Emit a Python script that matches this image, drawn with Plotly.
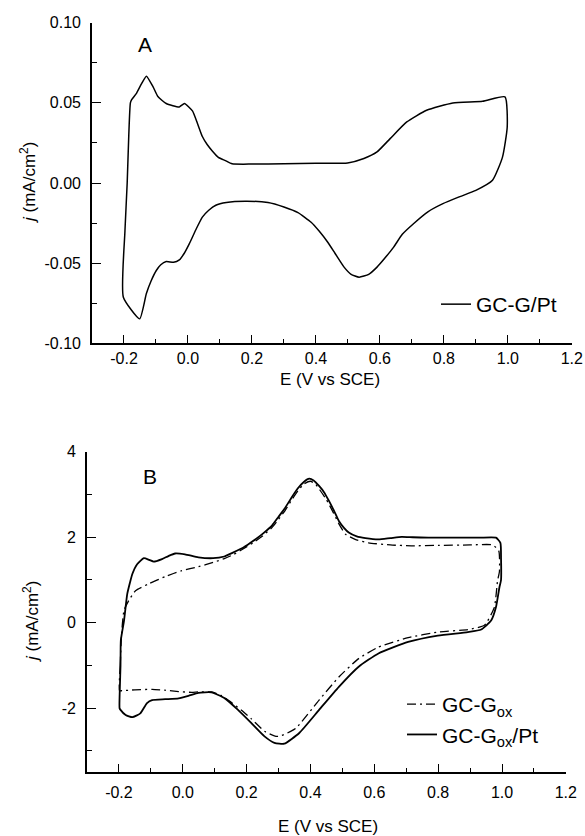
import plotly.graph_objects as go

# ---------------- Panel A : GC-G/Pt ----------------
a_E = [-0.202, -0.197, -0.190, -0.185, -0.180, -0.176, -0.161, -0.145, -0.130, -0.109, -0.094,
       -0.068, -0.027, -0.011, 0.014, 0.030, 0.045, 0.060, 0.076, 0.095, 0.117, 0.138, 0.200,
       0.300, 0.400, 0.499, 0.550, 0.591, 0.632, 0.684, 0.746, 0.828, 0.921, 0.991,
       0.998, 0.983, 0.952, 0.900, 0.850, 0.797, 0.750, 0.705, 0.670, 0.643, 0.615, 0.591, 0.565,
       0.535, 0.510, 0.488, 0.460, 0.437, 0.410, 0.385, 0.344, 0.300, 0.250, 0.179, 0.120, 0.087,
       0.065, 0.045, 0.025, 0.004, -0.012, -0.027, -0.045, -0.068, -0.085, -0.099, -0.115, -0.130,
       -0.151, -0.202]
a_j = [-0.0713, -0.030, 0.000, 0.030, 0.050, 0.052, 0.056, 0.062, 0.0667, 0.060, 0.054,
       0.0496, 0.0475, 0.0496, 0.045, 0.037, 0.029, 0.024, 0.020, 0.016, 0.014, 0.012, 0.0118,
       0.0120, 0.0123, 0.0125, 0.0153, 0.0194, 0.0277, 0.0381, 0.0454, 0.0500, 0.0510, 0.0538,
       0.035, 0.016, 0.0017, -0.0046, -0.0085, -0.0129, -0.018, -0.0254, -0.032, -0.040, -0.047, -0.0525, -0.057,
       -0.0588, -0.057, -0.0525, -0.044, -0.0370, -0.0300, -0.0245, -0.0185, -0.0150, -0.0122, -0.0114, -0.0122, -0.0139,
       -0.017, -0.0213, -0.029, -0.038, -0.044, -0.048, -0.0495, -0.049, -0.051, -0.0546, -0.061, -0.069,
       -0.0848, -0.0713]

# ---------------- Panel B : GC-Gox (dash-dot) ----------------
b1_E = [-0.198, -0.196, -0.192, -0.184, -0.169, -0.148, -0.107, -0.055, -0.003, 0.049, 0.095, 0.130,
        0.160, 0.190, 0.220, 0.250, 0.280, 0.300, 0.320, 0.340, 0.360, 0.380, 0.400, 0.415, 0.430,
        0.450, 0.470, 0.490, 0.510, 0.540, 0.582, 0.650, 0.716, 0.800, 0.900, 0.971, 0.990,
        0.992, 0.986, 0.976, 0.945, 0.893, 0.799, 0.706, 0.613, 0.551, 0.489, 0.427, 0.354, 0.310,
        0.292, 0.256, 0.215, 0.184, 0.150, 0.120, 0.090, 0.049, 0.028, -0.013, -0.055, -0.096, -0.150,
        -0.190, -0.198]
b1_j = [-1.59, -1.00, -0.30, 0.29, 0.52, 0.75, 0.91, 1.08, 1.22, 1.31, 1.41, 1.50,
        1.60, 1.73, 1.87, 2.03, 2.23, 2.42, 2.62, 2.86, 3.08, 3.25, 3.31, 3.25, 3.10,
        2.88, 2.60, 2.30, 2.07, 1.95, 1.87, 1.82, 1.80, 1.81, 1.82, 1.82, 1.68,
        1.20, 0.98, 0.36, -0.06, -0.16, -0.22, -0.35, -0.57, -0.84, -1.27, -1.81, -2.47, -2.64,
        -2.66, -2.54, -2.25, -2.05, -1.85, -1.70, -1.62, -1.62, -1.63, -1.61, -1.58, -1.56, -1.57,
        -1.59, -1.59]

# ---------------- Panel B : GC-Gox/Pt (solid) ----------------
b2_E = [-0.198, -0.197, -0.195, -0.194, -0.184, -0.174, -0.165, -0.158, -0.143, -0.122, -0.105,
        -0.091, -0.065, -0.045, -0.024, 0.007, 0.049, 0.095, 0.130, 0.157, 0.190, 0.220, 0.250,
        0.280, 0.300, 0.320, 0.340, 0.360, 0.380, 0.396, 0.410, 0.427, 0.443, 0.458, 0.475, 0.489,
        0.505, 0.520, 0.545, 0.572, 0.613, 0.650, 0.686, 0.720, 0.769, 0.850, 0.930, 0.981, 0.995,
        0.997, 0.997, 0.992, 0.981, 0.966, 0.935, 0.893, 0.799, 0.706, 0.613, 0.551, 0.489, 0.427,
        0.365, 0.318, 0.287, 0.256, 0.215, 0.173, 0.132, 0.090, 0.049, 0.018, -0.013, -0.055, -0.096,
        -0.112, -0.133, -0.158, -0.179, -0.195, -0.198]
b2_j = [-2.00, -1.50, -1.00, -0.41, 0.05, 0.67, 0.95, 1.14, 1.37, 1.51, 1.47,
        1.43, 1.49, 1.56, 1.62, 1.60, 1.53, 1.51, 1.55, 1.64, 1.76, 1.91, 2.08,
        2.28, 2.48, 2.68, 2.92, 3.14, 3.30, 3.37, 3.33, 3.20, 3.05, 2.85, 2.60, 2.38,
        2.22, 2.11, 2.02, 1.98, 1.95, 1.98, 2.01, 2.00, 1.99, 1.99, 1.99, 1.99, 1.87,
        1.50, 1.00, 0.83, 0.36, 0.05, -0.16, -0.22, -0.30, -0.45, -0.72, -1.03, -1.50, -2.04,
        -2.58, -2.83, -2.81, -2.66, -2.35, -2.04, -1.77, -1.63, -1.64, -1.71, -1.77, -1.79, -1.81,
        -1.88, -2.12, -2.21, -2.16, -2.04, -2.00]

x_tickvals = [-0.2, 0.0, 0.2, 0.4, 0.6, 0.8, 1.0, 1.2]
x_ticktext = ["-0.2", "0.0", "0.2", "0.4", "0.6", "0.8", "1.0", "1.2"]
ya_tickvals = [-0.10, -0.05, 0.0, 0.05, 0.10]
ya_ticktext = ["-0.10", "-0.05", "0.00", "0.05", "0.10"]
yb_tickvals = [-2, 0, 2, 4]
yb_ticktext = ["-2", "0", "2", "4"]

W, H = 585, 836
FONT = "Liberation Sans, Arial, sans-serif"


def fx(p):
    return p / W


def fy(p):
    return 1 - p / H


fig = go.Figure()
fig.add_trace(go.Scatter(x=a_E, y=a_j, mode="lines", name="GC-G/Pt",
                         line=dict(color="black", width=1.5, shape="spline", smoothing=0.5),
                         xaxis="x", yaxis="y", legend="legend"))
fig.add_trace(go.Scatter(x=b1_E, y=b1_j, mode="lines", name="GC-G<sub>ox</sub>",
                         line=dict(color="black", width=1.3, dash="9px,4px,2px,4px",
                                   shape="spline", smoothing=0.5),
                         xaxis="x2", yaxis="y2", legend="legend2"))
fig.add_trace(go.Scatter(x=b2_E, y=b2_j, mode="lines", name="GC-G<sub>ox</sub>/Pt",
                         line=dict(color="black", width=1.8, shape="spline", smoothing=0.5),
                         xaxis="x2", yaxis="y2", legend="legend2"))

tickfont = dict(family=FONT, size=16, color="black")


def xax(domain, anchor, standoff):
    return dict(domain=domain, anchor=anchor, range=[-0.3, 1.2005],
                tickmode="array", tickvals=x_tickvals, ticktext=x_ticktext,
                ticks="inside", ticklen=9, tickwidth=1.3, tickcolor="black",
                minor=dict(tickmode="linear", tick0=-0.3, dtick=0.1, ticks="inside",
                           ticklen=5, tickwidth=1.2, tickcolor="black", showgrid=False),
                showline=True, linecolor="black", linewidth=1.6, mirror=False,
                showgrid=False, zeroline=False, tickfont=tickfont, automargin=False,
                ticklabelstandoff=standoff)


def yax(domain, anchor, rng, tv, tt, mdt):
    return dict(domain=domain, anchor=anchor, range=rng,
                tickmode="array", tickvals=tv, ticktext=tt,
                ticks="inside", ticklen=9, tickwidth=1.3, tickcolor="black",
                minor=dict(tickmode="linear", tick0=0, dtick=mdt, ticks="inside",
                           ticklen=5, tickwidth=1.2, tickcolor="black", showgrid=False),
                showline=True, linecolor="black", linewidth=1.6, mirror=False,
                showgrid=False, zeroline=False, tickfont=tickfont, automargin=False,
                ticklabelstandoff=6)


fig.update_layout(
    width=W, height=H, margin=dict(l=0, r=0, t=0, b=0),
    paper_bgcolor="white", plot_bgcolor="white",
    font=dict(family=FONT, color="black"),
    xaxis=xax([fx(92), fx(572)], "y", 0),
    yaxis=yax([fy(343.3), fy(22.7)], "x", [-0.10005, 0.10005], ya_tickvals, ya_ticktext, 0.025),
    xaxis2=xax([fx(87), fx(566)], "y2", 5),
    yaxis2=yax([fy(772.3), fy(451.7)], "x2", [-3.5, 4.002], yb_tickvals, yb_ticktext, 1),
    legend=dict(x=fx(436), y=fy(284), xanchor="left", yanchor="top",
                bgcolor="rgba(0,0,0,0)", font=dict(family=FONT, size=21, color="black"),
                itemwidth=30, tracegroupgap=0),
    legend2=dict(x=fx(402), y=fy(684), xanchor="left", yanchor="top",
                 bgcolor="rgba(0,0,0,0)", font=dict(family=FONT, size=21, color="black"),
                 itemwidth=30, tracegroupgap=0),
    showlegend=True,
)

ann = [
    dict(text="A", x=fx(145), y=fy(45)),
    dict(text="B", x=fx(150), y=fy(476)),
]
for a in ann:
    fig.add_annotation(text=a["text"], x=a["x"], y=a["y"], xref="paper", yref="paper",
                       showarrow=False, xanchor="center", yanchor="middle",
                       font=dict(family=FONT, size=21, color="black"))

for (cx, cy) in [(330, 379), (328, 826)]:
    fig.add_annotation(text="E (V vs SCE)", x=fx(cx), y=fy(cy), xref="paper", yref="paper",
                       showarrow=False, xanchor="center", yanchor="middle",
                       font=dict(family=FONT, size=17, color="black"))

for (cx, cy) in [(28, 183), (31, 622)]:
    fig.add_annotation(text="<i>j</i> (mA/cm<sup>2</sup>)", x=fx(cx), y=fy(cy),
                       xref="paper", yref="paper", showarrow=False, textangle=-90,
                       xanchor="center", yanchor="middle",
                       font=dict(family=FONT, size=17, color="black"))

fig.write_html("out.html")
